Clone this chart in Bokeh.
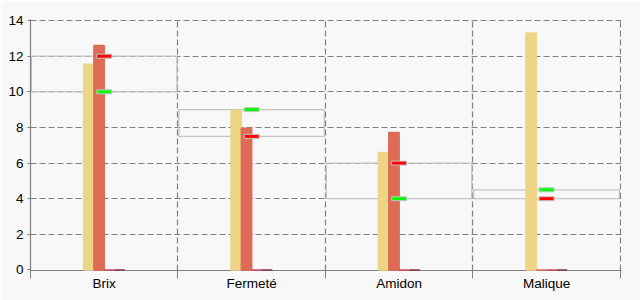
from bokeh.plotting import figure
from bokeh.models import Range1d, FixedTicker, ColumnDataSource
from bokeh.embed import file_html
from bokeh.resources import INLINE

categories = ["Brix", "Fermeté", "Amidon", "Malique"]
series_a = [11.55, 8.97, 6.6, 13.3]
series_b = [12.6, 7.95, 7.72, 0]
series_c = [0, 0, 0, 0]
series_d = [0, 0, 0, 0]
target_green = [10, 9, 4, 4.5]
target_red = [12, 7.5, 6, 4]
y_ticks = [0, 2, 4, 6, 8, 10, 12, 14]

series = [series_a, series_b, series_c, series_d]
colors = ["#EED485", "#DE6B56", "#D2455E", "#7E3046"]
offsets = [-0.105, -0.035, 0.035, 0.105]
bar_w = 0.07

BG = "#f8f8f8"
GRID = "#808080"
FONT = "Liberation Sans"

n = len(categories)
p = figure(width=640, height=300, output_backend="svg", toolbar_location=None,
           x_range=Range1d(0, n + 0.008), y_range=Range1d(-0.03, 14.06))
p.min_border_left = 30
p.min_border_right = 19
p.min_border_top = 19
p.min_border_bottom = 30
p.background_fill_color = BG
p.border_fill_color = BG
p.outline_line_color = None

centers = [i + 0.5 for i in range(n)]

# grids
p.xgrid.ticker = FixedTicker(ticks=[i + 1 for i in range(n)])
p.ygrid.ticker = FixedTicker(ticks=y_ticks[1:])
for g in (p.xgrid[0], p.ygrid[0]):
    g.grid_line_color = GRID
    g.grid_line_dash = "6 3"
    g.grid_line_width = 1.2

# range boxes
lo = [min(a, b) for a, b in zip(target_green, target_red)]
hi = [max(a, b) for a, b in zip(target_green, target_red)]
p.quad(left=[i + 0.006 for i in range(n)],
       right=[i + 0.993 for i in range(n)],
       bottom=lo, top=hi, fill_color=None, line_color="#c4c4c4", line_width=1.3)

# bars
for vals, col, off in zip(series, colors, offsets):
    src = ColumnDataSource(dict(x=[c + off for c in centers], top=vals))
    p.vbar(x="x", top="top", bottom=0, width=bar_w, source=src,
           fill_color=col, line_color=col, line_width=1.5, level="overlay")

# markers
p.rect(x=centers, y=target_green, width=15, height=4, width_units="screen",
       height_units="screen", fill_color="#00ff00", line_color="#c4c4c4", line_width=1,
       level="overlay")
p.rect(x=centers, y=target_red, width=15, height=4, width_units="screen",
       height_units="screen", fill_color="#ff0000", line_color="#c4c4c4", line_width=1,
       level="overlay")

# axes
xa = p.xaxis[0]
xa.ticker = FixedTicker(ticks=centers, minor_ticks=[float(i) for i in range(n + 1)])
xa.major_label_overrides = {c: name for c, name in zip(centers, categories)}
xa.major_tick_line_color = None
xa.major_tick_out = 0
xa.major_tick_in = 0
xa.minor_tick_line_color = GRID
xa.minor_tick_out = 8
xa.minor_tick_in = 0
xa.axis_line_color = GRID
xa.axis_line_width = 1.2
xa.major_label_standoff = -3

ya = p.yaxis[0]
ya.ticker = FixedTicker(ticks=y_ticks)
ya.minor_tick_line_color = None
ya.major_tick_line_color = GRID
ya.major_tick_out = 3
ya.major_tick_in = 0
ya.axis_line_color = GRID
ya.axis_line_width = 1.2
ya.major_label_standoff = 4

for ax in (xa, ya):
    ax.major_label_text_font = FONT
    ax.major_label_text_font_size = "13.5px"
    ax.major_label_text_color = "#000000"

open("out.html", "w").write(file_html(p, INLINE))
